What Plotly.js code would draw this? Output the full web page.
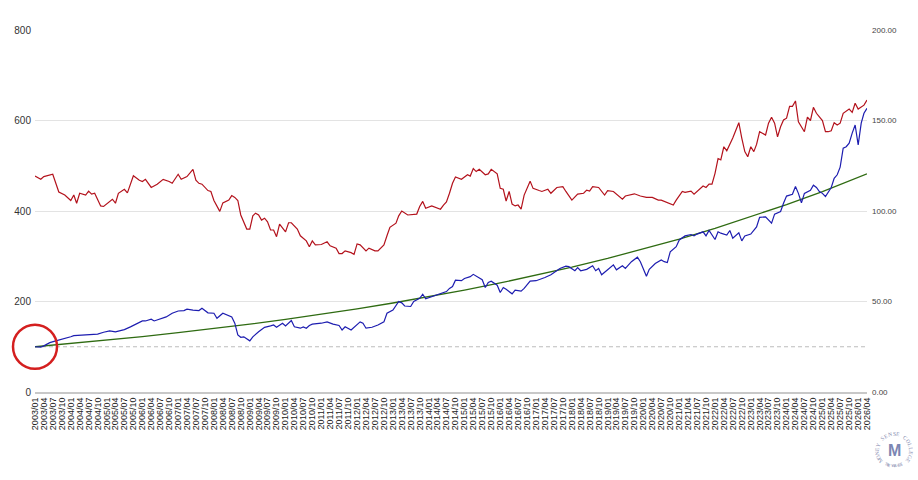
<!DOCTYPE html>
<html>
<head>
<meta charset="utf-8">
<script src="https://cdn.plot.ly/plotly-3.0.1.min.js"></script>
<style>html,body{margin:0;padding:0;background:#fff;}#chart{width:918px;height:480px;}</style>
</head>
<body>
<div id="chart"></div>
<script>
// ---- Data (month index from 2003/01) ----
const blueMonths = [0,2,3,5,7,9,12,13,16,18,21,23,25,27,30,32,34,36,37,39,40,42,44,46,48,50,51,53,55,56,58,60,61,63,65,66,67,68,69,70,72,73,75,77,79,80,81,83,84,86,87,89,90,91,92,93,96,98,100,102,103,104,106,107,109,110,111,113,115,117,118,120,121,122,123,124,126,127,129,130,131,133,135,136,138,139,140,141,143,144,146,147,149,150,151,152,153,155,156,157,158,160,161,163,164,166,168,169,171,173,174,176,178,179,181,182,183,185,187,188,189,190,192,194,195,197,198,200,202,203,205,206,208,210,211,212,213,215,216,218,220,221,222,224,225,226,228,229,230,232,233,234,236,237,238,240,242,243,245,246,247,248,250,251,252,254,255,256,257,258,260,261,262,263,264,265,267,268,269,270,271,272,273,274,275,276,277,278,279];
const blueValues = [100,99,102,109,113,116,122,124.5,126,128,128,132,135,133,138,144,150,157,157,161,157,161,166,174,179,180,183,181,180,185,175,174,163,174,169,166,152,126,121,122,113,122,133,143,146,148,143,152,146,158,144,141,144,141,147,150,152,155,150,147,137,144,137,143,155,152,141,143,148,155,174,181,190,200,197,190,189,200,207,216,206,211,214,218,222,229,233,247,246,251,255,260,253,248,231,242,245,236,220,231,227,217,225,223,229,245,246,248,253,259,264,273,278,277,268,275,268,271,279,268,273,259,270,281,270,279,273,288,298,288,256,271,284,292,288,286,310,321,336,345,348,345,349,354,345,357,337,354,351,347,357,340,352,334,345,349,365,386,387,379,373,393,399,417,433,437,454,439,418,439,446,457,452,443,439,432,452,472,480,497,539,542,550,572,590,546,594,616,627];

const redMonths = [0,2,3,6,8,10,12,13,14,15,17,18,19,20,22,23,26,27,28,30,31,33,35,36,37,39,41,43,45,46,48,49,51,53,54,55,56,58,59,60,62,63,65,66,67,68,69,70,71,72,73,74,75,76,77,78,79,80,81,82,83,84,85,86,88,89,91,92,93,94,96,98,99,101,102,103,104,106,107,108,109,111,112,114,115,117,118,119,121,122,123,125,128,129,130,131,133,136,137,138,139,140,141,143,145,146,147,148,149,151,152,153,155,156,157,158,159,160,161,162,163,164,166,167,169,170,172,173,175,177,178,180,182,184,185,186,187,189,191,192,194,196,197,198,201,203,205,207,209,210,212,214,215,217,218,220,221,222,224,225,226,227,228,229,230,231,232,234,235,236,237,238,239,240,241,242,243,245,246,247,248,249,250,251,252,253,254,255,256,257,258,259,260,261,262,264,265,266,267,268,269,270,271,273,274,275,276,278,279];
const redValues = [119.3,117.5,119,120.3,110.5,108.8,105.8,108.8,104.3,109.8,108.8,111,109.3,109.8,102.8,102.5,106.5,104.3,109.8,112,110,119.5,117,116.3,117.5,113,114.8,117.5,116.3,115.3,120.3,117.5,119,123,117,115.3,114.8,111.3,110.8,105.8,99.8,104.5,106,108.5,107.5,105.8,97.8,94,90,90,97.3,98.8,97.8,95,96,94,89.5,89.5,85.8,92.8,90.5,88.5,93.5,93.5,90,86.3,83.5,80.3,83.5,81.3,81.5,83,80.8,79.5,76.5,76.5,78,77,76,81.8,81.3,78,79.5,78,78,81.3,86.3,91,93.3,97.3,100,97.8,98.3,102.5,105.3,101.5,102.8,101,103.3,105,109.8,115.3,118.8,117.5,120,119.3,123.5,121.8,123,120,120.5,123,120.5,112.5,112,105.5,110.8,103.8,102.8,103.3,101,108.8,116.5,112.5,111.3,110.8,112,109.8,113,113.5,110.8,106,109.3,109.8,111.5,111,113.5,113,108.8,111.3,110.8,108,106.5,108.3,109.5,108.3,107.5,107.5,106,106,104.5,103.3,106,110.8,110.3,111,109.3,110.8,113.8,113,114.8,114.8,120.8,129,128.3,135.5,133.3,140.3,144.8,148.8,140.3,132.8,130,135.5,132.8,136.8,143.8,142,148.5,151.8,148.5,141,146.5,150.3,151.3,157.8,157.8,160.8,149.3,146.5,143.8,151.8,150,157.3,154,150,143.8,143.8,144.3,148.8,147.5,148.5,154,156.3,154.5,159.5,156.3,158.5,161.3];

const greenMonths = [0,12,24,36,48,60,72,84,96,108,120,132,144,156,168,180,192,204,216,228,240,252,264,276,279];
const greenValues = [100,107,114.5,122.5,131,140,150,160.6,171.8,183.8,196.7,210.5,225.2,241,257.9,275.9,295.2,315.9,338,361.7,387,414,443,474,482];

const baseMonths = [0,279];
const baseValues = [100,100];

function mDate(m){
  const y = 2003 + Math.floor(m/12);
  const mo = (m % 12) + 1;
  return y + '-' + String(mo).padStart(2,'0') + '-01';
}
const dates = a => a.map(mDate);

const traces = [
  {x: dates(baseMonths), y: baseValues, mode:'lines', line:{color:'#bdbdbd', width:1, dash:'4px,3px'}, hoverinfo:'skip'},
  {x: dates(greenMonths), y: greenValues, mode:'lines', line:{color:'#2f6b12', width:1.3}},
  {x: dates(redMonths), y: redValues, yaxis:'y2', mode:'lines', line:{color:'#b3121c', width:1.2}},
  {x: dates(blueMonths), y: blueValues, mode:'lines', line:{color:'#1d1db0', width:1.2}}
];

// watermark (decorative circular text)
const L = 35, W = 832, T = 30, H = 362;
const px = p => (p - L) / W, py = p => (T + H - p) / H;
const cx = 894, cy = 451, r = 17;
const ann = [];
const topText = 'MONEY SENSE COLLEGE';
for (let i = 0; i < topText.length; i++) {
  const th = 215 - i * (250 / (topText.length - 1));
  const rad = th * Math.PI / 180;
  ann.push({xref:'paper', yref:'paper', x: px(cx + r*Math.cos(rad)), y: py(cy - r*Math.sin(rad)),
    text: topText[i], showarrow:false, textangle: 90 - th, xanchor:'center', yanchor:'middle',
    font:{family:'Liberation Serif, serif', size:5.5, color:'#7f88ad'}});
}
const botText = 'TAKE YOUR SEAT';
for (let i = 0; i < botText.length; i++) {
  const th = 238 + i * (64 / (botText.length - 1));
  const rad = th * Math.PI / 180;
  ann.push({xref:'paper', yref:'paper', x: px(cx + (r-2)*Math.cos(rad)), y: py(cy - (r-2)*Math.sin(rad)),
    text: botText[i], showarrow:false, textangle: 270 - th, xanchor:'center', yanchor:'middle',
    font:{family:'Liberation Serif, serif', size:4, color:'#7f88ad'}});
}
ann.push({xref:'paper', yref:'paper', x: px(cx), y: py(cy - 1), text:'<b>M</b>', showarrow:false,
  xanchor:'center', yanchor:'middle', font:{family:'Liberation Sans, Arial', size:16, color:'#7c86b3'}});

const layout = {
  width: 918, height: 480,
  margin: {l: L, r: 918 - L - W, t: T, b: 480 - T - H, pad: 0},
  paper_bgcolor: '#ffffff', plot_bgcolor: '#ffffff',
  showlegend: false,
  font: {family: 'Liberation Sans, Arial, sans-serif', color: '#333'},
  xaxis: {
    type: 'date', range: ['2003-01-01', '2026-04-01'],
    tick0: '2003-01-01', dtick: 'M3', tickformat: '%Y/%m', tickangle: -90,
    tickfont: {size: 9, color: '#222'}, showgrid: false, zeroline: false,
    showline: true, linecolor: '#c8c8c8', linewidth: 2, ticks: '', ticklen: 0
  },
  yaxis: {
    range: [0, 800], dtick: 200, tick0: 0, gridcolor: '#e3e3e3', gridwidth: 1,
    zeroline: false, showline: false, ticks: '', tickfont: {size: 10, color: '#333'},
    ticklabelstandoff: 3
  },
  yaxis2: {
    overlaying: 'y', side: 'right', range: [0, 200], dtick: 50, tick0: 0,
    tickformat: '.2f', showgrid: false, zeroline: false, showline: false, ticks: '',
    tickfont: {size: 8, color: '#444'}, ticklabelstandoff: 4
  },
  shapes: [{
    type: 'circle', xref: 'paper', yref: 'paper', xsizemode: 'pixel', ysizemode: 'pixel',
    xanchor: 0, yanchor: 100 / 800, x0: -22, x1: 22, y0: -22, y1: 22,
    line: {color: '#d41f1f', width: 2.5}
  }],
  annotations: ann
};

Plotly.newPlot('chart', traces, layout, {staticPlot: true, displayModeBar: false});
</script>
</body>
</html>
